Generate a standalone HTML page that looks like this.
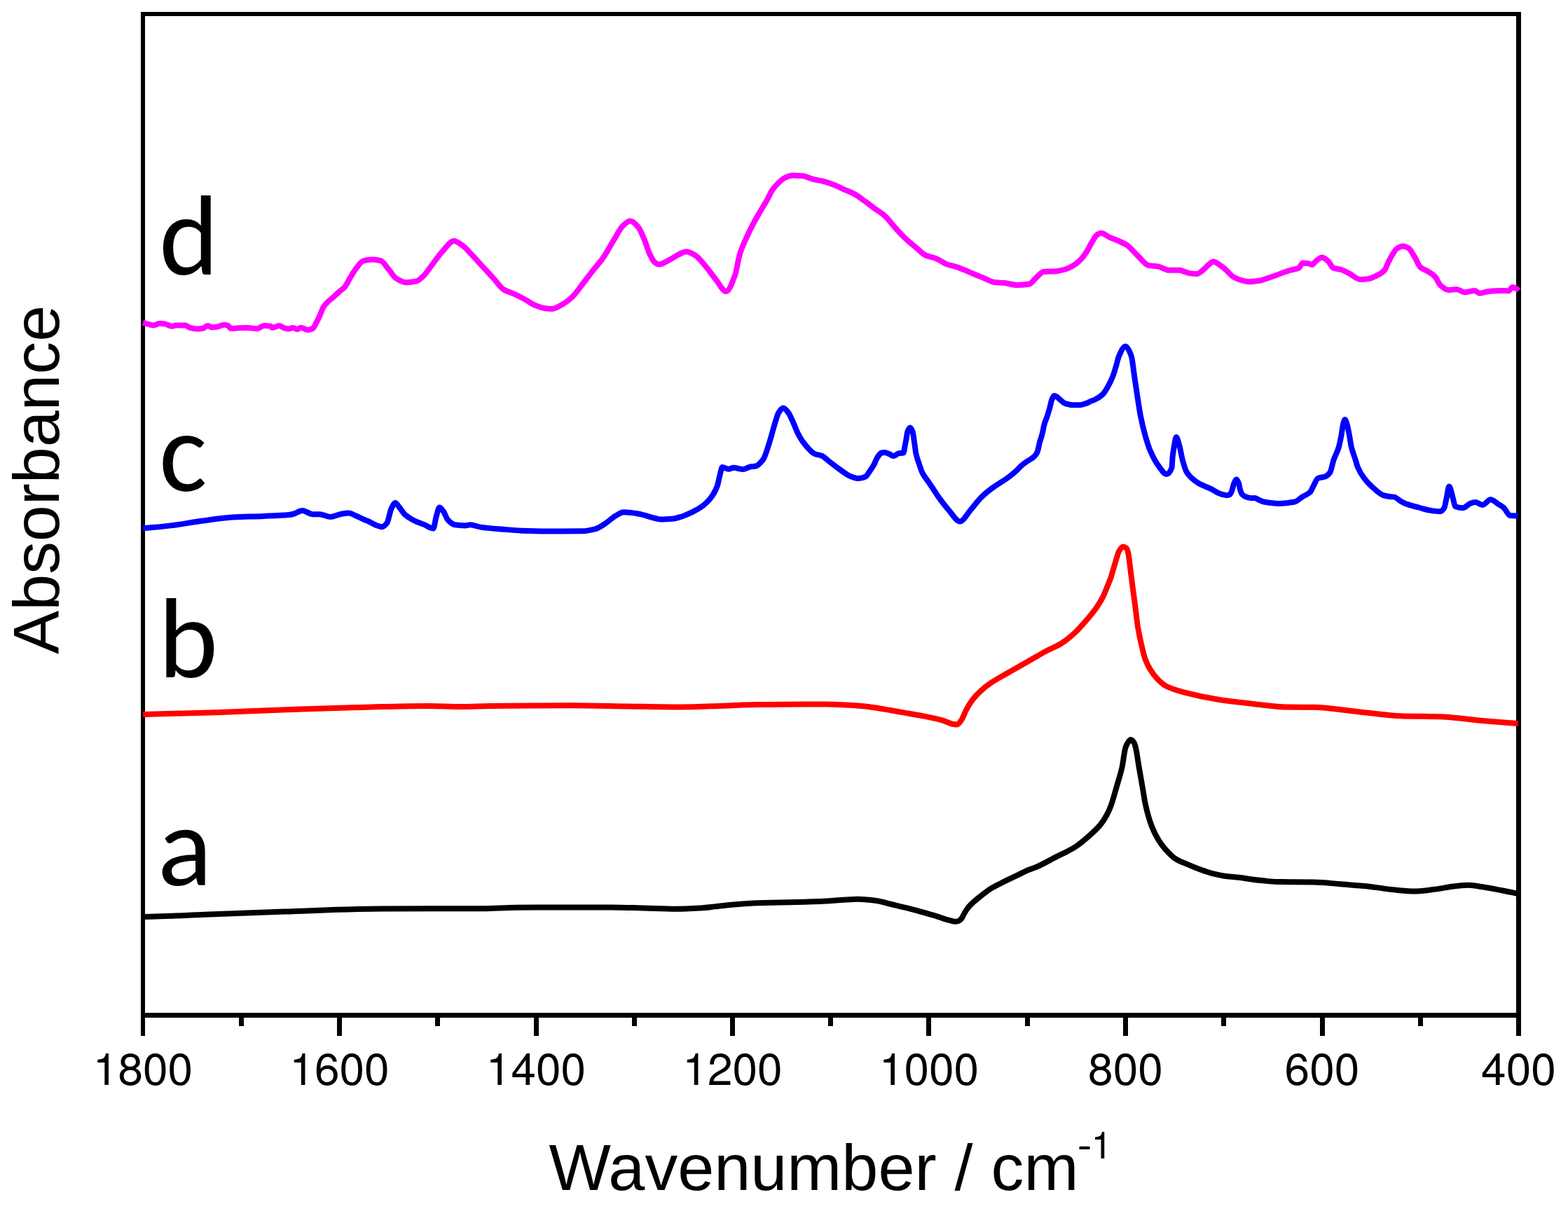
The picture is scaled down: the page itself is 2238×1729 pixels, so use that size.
<!DOCTYPE html><html><head><meta charset="utf-8"><title>FTIR spectra</title><style>html,body{margin:0;padding:0;background:#fff;}svg{display:block;}</style></head><body>
<svg width="2238" height="1729" viewBox="0 0 2238 1729">
<rect width="2238" height="1729" fill="#fff"/>
<g fill="#000" shape-rendering="crispEdges"><rect x="201" y="17" width="6" height="1436"/><rect x="201" y="17" width="1970" height="6"/><rect x="2164" y="17" width="7" height="1436"/><rect x="201" y="1446" width="1970" height="7"/><rect x="201" y="1453" width="6" height="26"/><rect x="341" y="1453" width="7" height="12"/><rect x="481" y="1453" width="7" height="26"/><rect x="621" y="1453" width="7" height="12"/><rect x="762" y="1453" width="7" height="26"/><rect x="902" y="1453" width="7" height="12"/><rect x="1042" y="1453" width="7" height="26"/><rect x="1182" y="1453" width="7" height="12"/><rect x="1322" y="1453" width="7" height="26"/><rect x="1463" y="1453" width="7" height="12"/><rect x="1603" y="1453" width="7" height="26"/><rect x="1743" y="1453" width="7" height="12"/><rect x="1884" y="1453" width="7" height="26"/><rect x="2024" y="1453" width="7" height="12"/><rect x="2164" y="1453" width="7" height="26"/></g>
<path d="M204 460.6C206.9 461.5 209.9 462.5 212.8 463.2C214.9 463.7 217.1 464.5 219.2 464.5C222.2 464.5 225.2 461.8 228.2 461.8C230.8 461.8 233.3 462.2 235.9 462.6C238.9 463.1 241.9 465.8 244.9 465.8C247 465.8 249.2 464.4 251.3 464.4C255.6 464.4 259.8 464.4 264.1 464.4C266.2 464.4 268.4 467 270.5 467.7C273.5 468.6 276.5 469.6 279.5 469.6C282.9 469.6 286.3 469.2 289.7 468.7C291.9 468.4 294 465 296.2 465C298.3 465 300.5 467.3 302.6 467.3C304.7 467.3 306.9 467 309 466.8C312.8 466.4 316.7 463.7 320.5 463.7C322.2 463.7 323.9 464.2 325.6 464.9C326.9 465.4 328.2 469 329.5 469C333.3 469 337.2 468.4 341 468.3C345.3 468.2 349.5 468.1 353.8 468.1C358.1 468.1 362.4 469.2 366.7 469.2C370.1 469.2 373.5 464.9 376.9 464.9C379.9 464.9 382.9 465.1 385.9 465.6C386.8 465.7 387.6 467.7 388.5 467.7C391.9 467.7 395.3 465.1 398.7 465.1C400.8 465.1 403 467.4 405.1 468.1C407.2 468.8 409.4 469.6 411.5 469.6C413.6 469.6 415.8 468.1 417.9 468.1C420.1 468.1 422.2 470 424.4 470C426.1 470 427.8 467.7 429.5 467.7C432.5 467.7 435.5 470.9 438.5 470.9C441.1 470.9 443.6 470.3 446.2 469.4C447.9 468.8 449.6 464.1 451.3 461C453 457.9 454.7 454.5 456.4 450.8C458.1 447.1 459.8 441.3 461.5 438.6C464.1 434.5 466.6 432 469.2 429.6C471.1 427.8 473.1 426.6 475 425C478.2 422.3 481.5 418.8 484.7 416C487.1 413.9 489.6 412.6 492 409.9C494.4 407.2 496.9 401.4 499.3 397.4C502.2 392.6 505.2 387.3 508.1 383.5C511.5 379.1 515 373.5 518.4 372.5C522.8 371.2 527.1 370.4 531.5 370.4C535.4 370.4 539.4 371.1 543.3 372.2C547.2 373.2 551.1 380.4 555 384.9C558.4 388.8 561.8 395.3 565.2 397.4C570.1 400.5 575 403.3 579.9 403.3C584.8 403.3 589.6 402.5 594.5 401.4C597.9 400.6 601.4 396.9 604.8 393.7C608.7 390 612.6 383.5 616.5 378.4C621.4 372 626.3 364.6 631.2 359.3C636.8 353.3 642.4 344 648 344C652.2 344 656.3 347.9 660.5 350.8C665.4 354.2 670.2 360.4 675.1 365.5C680 370.6 684.9 376.3 689.8 381.6C694.7 386.9 699.5 392.1 704.4 397.4C709.3 402.7 714.2 410.5 719.1 413.5C724 416.5 728.8 417.5 733.7 419.7C738.6 421.9 743.5 424.4 748.4 427C753.3 429.6 758.1 433.5 763 435.5C767.9 437.5 772.8 439.6 777.7 440.2C780.9 440.6 784.1 440.9 787.3 440.9C792.2 440.9 797.1 437.6 802 435C806.9 432.5 811.7 428.6 816.6 424.1C821.5 419.5 826.4 412.1 831.3 405.8C836.2 399.6 841 392.9 845.9 386.7C850.8 380.4 855.7 375.4 860.6 368.4C865.5 361.5 870.3 352 875.2 344.2C880.1 336.4 885 325.7 889.9 321.5C893.1 318.8 896.2 315.6 899.4 315.6C903.1 315.6 906.9 319.6 910.6 323.7C913.4 326.8 916.3 334.2 919.1 340.7C921.9 347.2 924.8 357.8 927.6 363.4C930 368.1 932.3 373.1 934.7 374.8C936.6 376.2 938.5 377.6 940.4 377.6C945.5 377.6 950.7 373.4 955.8 370.9C960.7 368.5 965.6 364.7 970.5 362.5C973.4 361.2 976.4 359.2 979.3 359.2C983.7 359.2 988.1 362.1 992.5 364.7C997.4 367.6 1002.2 374.4 1007.1 380.1C1012 385.8 1016.9 393.2 1021.8 399.2C1026.7 405.1 1031.5 416 1036.4 416C1040.7 416 1044.9 404.2 1049.2 392.6C1051.4 386.6 1053.6 370.5 1055.8 363.3C1058.7 353.8 1061.6 347.9 1064.5 341.3C1068.1 333.2 1071.6 326.1 1075.2 319.3C1079.2 311.7 1083.3 305 1087.3 298.1C1089.8 293.9 1092.2 290.1 1094.7 285.7C1097.1 281.4 1099.6 275.4 1102 271.8C1104.4 268.2 1106.9 265.4 1109.3 263C1113.2 259.1 1117.1 255 1121 253.4C1124.4 252 1127.9 250.5 1131.3 250.5C1136.2 250.5 1141 250.8 1145.9 251.2C1150.8 251.6 1155.7 254.7 1160.6 255.9C1165.5 257.1 1170.3 257.7 1175.2 258.9C1180.1 260.1 1185 261.8 1189.9 263.7C1194.8 265.5 1199.6 268.1 1204.5 270.3C1209.4 272.5 1214.3 274.3 1219.2 276.9C1224.1 279.5 1228.9 283.3 1233.8 286.7C1238.7 290.2 1243.6 294.1 1248.5 297.7C1253.4 301.3 1258.3 304 1263.2 308.4C1268.1 312.7 1272.9 319.9 1277.8 325.2C1282.7 330.6 1287.6 336 1292.5 340.6C1297.4 345.2 1302.2 349.1 1307.1 353.1C1312 357.1 1316.9 362.7 1321.8 364.8C1326.7 366.9 1331.5 367.3 1336.4 369.2C1341.3 371.1 1346.2 375.5 1351.1 377.3C1356 379.1 1360.8 379.6 1365.7 381.2C1370.6 382.8 1375.5 385 1380.4 387.1C1383.6 388.4 1386.8 390 1390 391.3C1394.9 393.4 1399.8 395.2 1404.7 397.2C1409.6 399.1 1414.4 402.4 1419.3 403C1424.2 403.6 1429.1 403.6 1434 404.1C1439.8 404.7 1445.7 407 1451.5 407C1457.4 407 1463.2 406.5 1469.1 405.5C1472 405 1475 400 1477.9 397.5C1481.8 394.1 1485.7 388.4 1489.6 388C1495.5 387.5 1501.3 387.7 1507.2 387.2C1512.1 386.8 1517 385.5 1521.9 384C1526.8 382.5 1531.6 379.4 1536.5 375.9C1538.8 374.2 1541.2 372 1543.5 369.5C1546.1 366.7 1548.6 363 1551.2 359C1553.8 355 1556.4 349.1 1559 345C1561.3 341.3 1563.7 336.4 1566 335C1567.9 333.8 1569.8 332.7 1571.7 332.7C1575.6 332.7 1579.5 336.9 1583.4 338.6C1587.3 340.3 1591.2 341.5 1595.1 343.3C1600 345.5 1604.9 347.6 1609.8 351C1614.7 354.4 1619.5 361.1 1624.4 365.7C1629.3 370.4 1634.2 377.9 1639.1 378.9C1644 379.9 1648.8 379.7 1653.7 380.6C1658.6 381.5 1663.5 385.8 1668.4 385.8C1673.3 385.8 1678.1 385.8 1683 385.8C1687.9 385.8 1692.8 389.5 1697.7 390.1C1701.4 390.6 1705.1 391 1708.8 391C1711.4 391 1713.9 387.9 1716.5 386C1720.2 383.2 1723.8 378.2 1727.5 375.8C1729 374.8 1730.4 373.4 1731.9 373.4C1735.2 373.4 1738.5 376.7 1741.8 378.9C1744.4 380.6 1746.9 382.8 1749.5 385C1753.1 388.1 1756.8 393.3 1760.4 395.4C1764.1 397.5 1767.7 399 1771.4 400C1775.1 401 1778.7 402.2 1782.4 402.2C1787.9 402.2 1793.4 401.4 1798.9 400.5C1802.6 399.9 1806.2 398.2 1809.9 397C1813.6 395.8 1817.2 394.5 1820.9 393.2C1824.6 391.9 1828.2 390.3 1831.9 389C1835.6 387.7 1839.2 386.5 1842.9 385.5C1846.5 384.5 1850.2 384.4 1853.8 382.7C1855.6 381.9 1857.5 375.6 1859.3 375.6C1862.2 375.6 1865.2 375.8 1868.1 376.2C1869.6 376.4 1871 378 1872.5 378C1874.3 378 1876.2 374.3 1878 372.9C1880.9 370.7 1883.9 367.4 1886.8 367.4C1889.7 367.4 1892.7 370.4 1895.6 372.9C1898.2 375.1 1900.7 381.7 1903.3 382.7C1907 384.1 1910.6 383.9 1914.3 385C1918 386.1 1921.6 388.3 1925.3 390.1C1930.7 392.8 1936 398.9 1941.4 398.9C1945.2 398.9 1949.1 398.6 1952.9 398.1C1956.7 397.7 1960.5 395.6 1964.3 393.8C1968.1 392 1972 390.3 1975.8 386.3C1977.7 384.3 1979.6 378.3 1981.5 374.6C1983.4 370.9 1985.3 366.8 1987.2 363.8C1989.5 360.2 1991.8 356 1994.1 354.6C1996.8 352.9 1999.4 351.4 2002.1 351.4C2004.8 351.4 2007.4 352.6 2010.1 354C2013.2 355.6 2016.2 362.3 2019.3 367.2C2022 371.5 2024.6 379.2 2027.3 381.5C2031.1 384.8 2034.9 385.4 2038.7 387.8C2041.8 389.8 2044.8 391.6 2047.9 394.7C2050.6 397.4 2053.2 404.9 2055.9 407.3C2059.7 410.7 2063.6 414.1 2067.4 414.1C2071.2 414.1 2075 413 2078.8 413C2082.6 413 2086.5 417.2 2090.3 417.2C2095.2 417.2 2100.2 414.9 2105.1 414.9C2107.4 414.9 2109.7 418.7 2112 418.7C2116.2 418.7 2120.4 416.3 2124.6 415.9C2130.3 415.4 2136.1 414.9 2141.8 414.9C2145.6 414.9 2149.4 415.3 2153.2 415.3C2155.1 415.3 2157 410.1 2158.9 410.1C2160.8 410.1 2162.8 411.3 2164.7 412.4C2165.6 412.9 2166.6 414.1 2167.5 415" fill="none" stroke="#ff00ff" stroke-width="8" stroke-linejoin="round" stroke-linecap="butt"/>
<path d="M204 754.3C217.3 753 230.7 752 244 750.4C258.7 748.7 273.3 745.7 288 743.8C302.7 741.9 317.3 739.5 332 738.6C346.7 737.7 361.3 737.6 376 736.9C388.2 736.4 400.3 736.2 412.5 735C414.9 734.8 417.4 734.1 419.8 733.5C423.7 732.5 427.6 729.1 431.5 729.1C436.4 729.1 441.3 734.2 446.2 734.2C449.6 734.2 453 734.2 456.4 734.2C461.3 734.2 466.1 737.9 471 737.9C475.9 737.9 480.8 735.1 485.7 734.2C489.6 733.5 493.5 732.6 497.4 732.6C500.8 732.6 504.3 734.8 507.7 736.2C511.8 737.8 515.9 740.3 520 742C521.6 742.7 523.1 743.1 524.7 743.8C529.6 745.8 534.4 749.3 539.3 750.8C541.3 751.4 543.2 752.3 545.2 752.3C547.6 752.3 550.1 749.6 552.5 746.4C554.5 743.8 556.4 730.6 558.4 726.6C560.3 722.6 562.3 718 564.2 718C566.1 718 568.1 722.1 570 724.4C572.5 727.4 574.9 731.9 577.4 734.2C581.8 738.2 586.2 740.8 590.6 743C595.5 745.5 600.3 746.9 605.2 748.9C609.6 750.7 614 754.5 618.4 754.5C619.9 754.5 621.3 741.9 622.8 737C624.3 732.1 625.7 724.5 627.2 724.5C629.1 724.5 631.1 727.7 633 730.3C635 732.9 637 739.8 639 742C642.4 745.7 645.8 748.8 649.2 749.3C654.1 750 658.9 750.4 663.8 750.4C666.3 750.4 668.7 749.3 671.2 749.3C676.1 749.3 680.9 751.9 685.8 752.6C695.6 754 705.3 754.7 715.1 755.5C724.9 756.3 734.6 757.3 744.4 757.7C754.2 758.1 763.9 758.4 773.7 758.4C783.5 758.4 793.2 758.4 803 758.4C812 758.4 821 758.4 830 758.3C836.4 758.3 842.9 756.9 849.3 755.3C854.2 754.1 859.1 750.5 864 747.4C868.9 744.3 873.7 739.1 878.6 736.4C882.5 734.3 886.4 731.3 890.3 731.3C893.7 731.3 897.2 731.7 900.6 732C905.5 732.5 910.3 733.4 915.2 734.4C920.1 735.4 925 737.4 929.9 738.6C934.8 739.8 939.6 741.6 944.5 741.6C949.4 741.6 954.3 741.2 959.2 740.8C964.1 740.4 968.9 738.7 973.8 737.2C978.7 735.7 983.6 733.3 988.5 730.9C993.4 728.5 998.3 725.8 1003.2 722.1C1006.6 719.6 1010 716.5 1013.4 712.3C1016.8 708 1020.3 703.1 1023.7 694C1024.9 690.8 1026.1 683.7 1027.3 679.3C1028.5 674.8 1029.8 667 1031 667C1033.9 667 1036.9 669.8 1039.8 669.8C1042.2 669.8 1044.7 667.7 1047.1 667.7C1051.5 667.7 1055.9 670 1060.3 670C1064.1 670 1067.9 666.6 1071.7 666.2C1073.7 666 1075.6 666 1077.6 665.8C1081.5 665.4 1085.4 661.1 1089.3 656C1092.1 652.3 1094.9 641.9 1097.7 633.3C1099.1 628.9 1100.6 623.5 1102 618.6C1103.4 613.8 1104.8 608.4 1106.2 604C1107.9 598.6 1109.6 591.9 1111.3 589.3C1113.5 585.9 1115.7 582.5 1117.9 582.5C1120.3 582.5 1122.8 586.2 1125.2 589.3C1127.6 592.4 1130.1 598.7 1132.5 604C1134.6 608.5 1136.6 614.6 1138.7 618.6C1141.8 624.5 1144.8 629.5 1147.9 633.3C1152.8 639.4 1157.7 645.8 1162.6 647.9C1166 649.4 1169.4 649.4 1172.8 650.8C1176.7 652.4 1180.6 656.7 1184.5 659.6C1189.4 663.3 1194.3 667.2 1199.2 670.6C1204.1 674 1208.9 678.3 1213.8 680.1C1217.7 681.5 1221.7 683.1 1225.6 683.1C1229 683.1 1232.4 682.1 1235.8 680.4C1237.2 679.7 1238.6 676.7 1240 674.7C1242.2 671.6 1244.3 668.7 1246.5 665C1248.7 661.3 1250.8 654.9 1253 652C1254.8 649.6 1256.5 646.9 1258.3 646.5C1259.8 646.2 1261.3 645.9 1262.8 645.9C1265 645.9 1267.1 647.4 1269.3 648.3C1271.5 649.2 1273.7 651.1 1275.9 651.1C1278.1 651.1 1280.2 647.9 1282.4 647.4C1284.8 646.9 1287.1 647.2 1289.5 646.5C1290.3 646.3 1291 639.3 1291.8 635.6C1292.2 633.5 1292.7 631.4 1293.1 629.1C1293.9 625.1 1294.6 618.1 1295.4 616.1C1296.6 613 1297.8 610.5 1299 610.5C1300.2 610.5 1301.3 613 1302.5 616C1303.5 618.6 1304.6 628.9 1305.6 635.6C1306.3 639.9 1306.9 645.7 1307.6 648.7C1309 654.8 1310.3 657.6 1311.7 661.7C1313.2 666.3 1314.8 671.6 1316.3 674.7C1319.2 680.6 1322.1 683.5 1325 687.8C1327.2 691.1 1329.4 694.3 1331.6 697.6C1333.9 701.1 1336.2 704.9 1338.5 708.1C1343.7 715.4 1348.8 722.2 1354 728.1C1359.4 734.2 1364.7 744.5 1370.1 744.5C1375 744.5 1379.9 734.4 1384.8 728.9C1389.9 723.1 1395.1 715.5 1400.2 710.4C1405.3 705.3 1410.5 701.2 1415.6 697.3C1423.3 691.5 1431 687.6 1438.7 681.9C1442.5 679.1 1446.2 676.2 1450 672.8C1452.8 670.3 1455.5 666.9 1458.3 664.5C1461.1 662.1 1463.8 660.2 1466.6 658.3C1469.4 656.4 1472.1 655.3 1474.9 652.9C1476.4 651.6 1478 650 1479.5 647.5C1480 646.6 1480.6 645.3 1481.1 643.7C1482.1 640.8 1483 634.9 1484 631.3C1485.3 626.6 1486.5 623.8 1487.8 618.8C1488.7 615.4 1489.5 609.6 1490.4 606.4C1491.9 601.1 1493.3 598.4 1494.8 593.9C1496 590.1 1497.3 586 1498.5 581.5C1499.3 578.4 1500.2 573.6 1501 571.5C1502.3 568.4 1503.5 565 1504.8 565C1506 565 1507.3 565.8 1508.5 566.5C1509.7 567.2 1511 568.9 1512.2 569.9C1515 572.2 1517.7 575.3 1520.5 576.1C1524.7 577.3 1528.8 578.3 1533 578.3C1535.8 578.3 1538.5 578.3 1541.3 578.3C1544.1 578.3 1546.8 577 1549.6 576.1C1552.4 575.2 1555.1 573.5 1557.9 572.4C1559.3 571.9 1560.6 571.5 1562 570.9C1566 569.1 1570 566.8 1574 563C1576.3 560.8 1578.7 556.6 1581 552.6C1583.5 548.3 1586 543.3 1588.5 536.9C1590 533.1 1591.5 527.7 1593 522.7C1594.3 518.2 1595.7 511.5 1597 508.5C1600.1 501.6 1603.2 494.5 1606.3 494.5C1609.1 494.5 1612 500.5 1614.8 508.5C1616.2 512.5 1617.7 527.3 1619.1 536.9C1620.5 546.3 1621.9 556.3 1623.3 565.4C1624.8 575.3 1626.4 586 1627.9 593.8C1630.2 605.3 1632.4 614.3 1634.7 622.3C1637.1 630.6 1639.4 638.2 1641.8 643.7C1645.4 652 1648.9 658.8 1652.5 663.6C1656.8 669.4 1661 677 1665.3 677C1667.7 677 1670 674.6 1672.4 668C1672.9 666.7 1673.3 654.9 1673.8 650.8C1674.5 644.4 1675.3 640.4 1676 636.5C1676.9 631.5 1677.9 624 1678.8 624C1680.3 624 1681.9 631.3 1683.4 636.5C1685 641.8 1686.5 652.4 1688.1 657.9C1690 664.6 1691.9 671.2 1693.8 674.2C1699 682.3 1704.2 685.9 1709.4 689.2C1716.5 693.8 1723.7 695.3 1730.8 699.2C1732.9 700.3 1735 702.1 1737.1 703.1C1739.5 704.2 1741.8 705.2 1744.2 705.8C1746.6 706.4 1748.9 707.2 1751.3 707.2C1752.7 707.2 1754.1 706.7 1755.5 706C1756.5 705.5 1757.5 702.6 1758.5 700C1759.3 697.8 1760.2 693 1761 691C1762.3 688 1763.6 684.5 1764.9 684.5C1765.9 684.5 1767 687.3 1768 690C1768.7 691.8 1769.3 696.9 1770 699C1771 702.1 1772 705 1773 706C1775.3 708.3 1777.5 709.2 1779.8 709.9C1782.2 710.6 1784.5 711.3 1786.9 711.3C1788.1 711.3 1789.3 710.9 1790.5 710.9C1792.9 710.9 1795.2 713.1 1797.6 714.1C1799.7 715 1801.9 716.1 1804 716.5C1811.3 717.9 1818.6 718.9 1825.9 718.9C1833.2 718.9 1840.6 718 1847.9 716.5C1851.6 715.8 1855.2 711.6 1858.9 709.3C1862.6 707 1866.2 706.2 1869.9 702.7C1871.7 700.9 1873.6 695.6 1875.4 692.3C1877.2 689 1879.1 683.9 1880.9 683C1884.6 681.2 1888.2 681.7 1891.9 680.2C1894.1 679.3 1896.3 677.5 1898.5 674.2C1900.1 671.8 1901.8 661.7 1903.4 656.9C1905.9 649.6 1908.3 646.7 1910.8 638.5C1912 634.5 1913.2 628.3 1914.4 622C1915.3 617.3 1916.2 608.8 1917.1 605.5C1917.9 602.5 1918.8 599 1919.6 599C1920.6 599 1921.5 602.6 1922.5 605.5C1923.5 608.4 1924.4 613.6 1925.4 618.5C1926.5 624.1 1927.6 633.1 1928.7 637.7C1930.7 646.3 1932.8 650.3 1934.8 656.9C1935.7 659.8 1936.6 663.7 1937.5 665.9C1940.6 673.5 1943.7 678.2 1946.8 682.4C1950.5 687.4 1954.1 691.2 1957.8 694.5C1963.3 699.5 1968.8 705.4 1974.3 707.1C1978 708.2 1981.6 709 1985.3 709.3C1986.9 709.4 1988.4 709.4 1990 709.6C1992.9 709.9 1995.8 713.6 1998.7 715.2C2001.6 716.8 2004.5 718.5 2007.4 719.6C2013.2 721.8 2019 723 2024.8 724.5C2030.6 726 2036.4 728.1 2042.2 728.9C2046.5 729.5 2050.9 730.2 2055.2 730.2C2057.2 730.2 2059.3 728.2 2061.3 725.2C2062.3 723.7 2063.4 716.7 2064.4 712.2C2065.7 706.5 2067 694.5 2068.3 694.5C2070.2 694.5 2072.1 705.8 2074 712.2C2075 715.6 2076 722.7 2077 723.1C2080.8 724.7 2084.5 725.2 2088.3 725.2C2091.8 725.2 2095.2 719.9 2098.7 718.7C2101 717.9 2103.4 717 2105.7 717C2109.2 717 2112.6 720.9 2116.1 720.9C2119.9 720.9 2123.7 713.2 2127.5 713.2C2131 713.2 2134.4 717.1 2137.9 719.3C2140.8 721.1 2143.7 722.6 2146.6 725.2C2149.5 727.8 2152.4 735.9 2155.3 736.1C2159.2 736.4 2163.1 736.4 2167 736.5" fill="none" stroke="#0000ff" stroke-width="8" stroke-linejoin="round" stroke-linecap="butt"/>
<path d="M204 1020C240.8 1019 277.7 1018.1 314.5 1016.9C352.7 1015.7 390.8 1013.8 429 1012.5C467 1011.2 505 1009.9 543 1009.1C566 1008.6 589 1008 612 1008C627.3 1008 642.7 1009.1 658 1009.1C672 1009.1 686 1008.1 700 1007.9C738.7 1007.5 777.3 1007.2 816 1007.2C842.7 1007.2 869.3 1008 896 1008.4C921.2 1008.8 946.4 1009.5 971.6 1009.5C992.1 1009.5 1012.5 1008.4 1033 1007.7C1048.3 1007.2 1063.7 1006.4 1079 1006.1C1102 1005.7 1125 1005.4 1148 1005.4C1158.7 1005.4 1169.3 1005.4 1180 1005.5C1189.2 1005.6 1198.3 1006.1 1207.5 1006.5C1216.7 1006.9 1225.8 1007.6 1235 1008.5C1244.1 1009.4 1253.3 1011.1 1262.4 1012.6C1271.6 1014.1 1280.7 1015.8 1289.9 1017.4C1299.1 1019 1308.2 1020.5 1317.4 1022.3C1326.5 1024.1 1335.7 1025.9 1344.8 1028.4C1350.3 1029.9 1355.8 1033.1 1361.3 1034C1362.9 1034.3 1364.4 1034.6 1366 1034.6C1368.1 1034.6 1370.2 1030.9 1372.3 1028C1374.6 1024.8 1376.9 1017.5 1379.2 1013.3C1382.4 1007.5 1385.6 1002.3 1388.8 998.2C1392.5 993.5 1396.1 989.9 1399.8 986.5C1404.4 982.3 1408.9 978.7 1413.5 975.5C1420.4 970.8 1427.2 967.2 1434.1 963.2C1441 959.2 1447.8 955.4 1454.7 951.5C1463.1 946.7 1471.6 941.8 1480 937C1484.6 934.4 1489.1 931.7 1493.7 929.3C1500.6 925.7 1507.4 923.2 1514.3 919C1521.2 914.8 1528.1 909 1535 902.6C1540.5 897.6 1545.9 891.1 1551.4 884.7C1556.2 879 1561.1 873.3 1565.9 866.2C1568.6 862.2 1571.4 857.8 1574.1 852.4C1576 848.6 1578 843.4 1579.9 838.7C1581.7 834.2 1583.6 830.2 1585.4 824.9C1586.8 821 1588.1 815.8 1589.5 811.2C1590.9 806.6 1592.2 801.7 1593.6 797.5C1594.9 793.6 1596.1 788.6 1597.4 786.5C1599.2 783.5 1601.1 780.5 1602.9 780.5C1604.6 780.5 1606.3 781.4 1608 783C1608.8 783.8 1609.7 787 1610.5 790.6C1611.4 794.5 1612.3 804.2 1613.2 811.2C1614.4 820.2 1615.5 829.8 1616.7 838.7C1617.9 848.1 1619.2 856.7 1620.4 866.2C1621.5 875 1622.7 886.5 1623.8 893.6C1625.6 905.1 1627.5 913.2 1629.3 921.1C1631.1 929 1633 936.8 1634.8 941.7C1637 947.6 1639.2 951.8 1641.4 955.4C1645.1 961.4 1648.7 966.1 1652.4 969.8C1656.5 973.9 1660.6 977.6 1664.7 979.7C1673 983.9 1681.2 986.1 1689.5 988.3C1706 992.7 1722.4 996.1 1738.9 998.7C1755.4 1001.3 1771.9 1003.1 1788.4 1004.9C1804.9 1006.7 1821.3 1009.4 1837.8 1009.6C1850.2 1009.7 1862.5 1009.7 1874.9 1009.8C1895.5 1010 1916.1 1013.9 1936.7 1016C1957.3 1018.1 1978 1021.5 1998.6 1022.2C2019.2 1022.9 2039.8 1022.7 2060.4 1023.4C2076.9 1024 2093.3 1026.9 2109.8 1028.4C2128.9 1030.1 2147.9 1031.5 2167 1033" fill="none" stroke="#ff0000" stroke-width="8" stroke-linejoin="round" stroke-linecap="butt"/>
<path d="M204 1309C210 1308.9 216 1308.8 222 1308.6C245.3 1308 268.7 1306.6 292 1305.7C330 1304.2 368 1302.7 406 1301.5C451.7 1300 497.3 1297.7 543 1297.5C592 1297.3 641 1297.4 690 1297.2C705.3 1297.1 720.7 1295.8 736 1295.7C781.7 1295.5 827.3 1295.4 873 1295.4C888.3 1295.4 903.7 1296.1 919 1296.5C934.3 1296.9 949.7 1297.7 965 1297.7C976.3 1297.7 987.7 1297.1 999 1296.5C1010.3 1295.9 1021.7 1294 1033 1292.9C1044.7 1291.8 1056.3 1290.4 1068 1289.9C1079.3 1289.4 1090.7 1289.1 1102 1288.8C1117.3 1288.4 1132.7 1288.2 1148 1287.8C1158.7 1287.5 1169.3 1287 1180 1286.5C1187 1286.1 1194 1285.5 1201 1285.1C1209 1284.6 1217 1283.7 1225 1283.7C1233 1283.7 1241 1284.8 1249 1285.8C1258 1286.9 1267 1289.9 1276 1292C1285.3 1294.2 1294.7 1296.4 1304 1298.8C1313 1301.1 1322 1303.8 1331 1306.4C1340.3 1309.1 1349.7 1313.2 1359 1315C1360.7 1315.3 1362.4 1315.8 1364.1 1315.8C1365.4 1315.8 1366.7 1315.4 1368 1315C1369.4 1314.5 1370.9 1313.1 1372.3 1311.5C1373.7 1310 1375 1306.3 1376.4 1304C1378.2 1300.9 1380.1 1297.9 1381.9 1295.6C1384.2 1292.8 1386.5 1290.6 1388.8 1288.5C1392.5 1285.1 1396.1 1282.3 1399.8 1279.4C1404.4 1275.8 1408.9 1272 1413.5 1269.1C1418.1 1266.2 1422.7 1264.1 1427.3 1261.7C1431.9 1259.3 1436.4 1257.1 1441 1254.9C1445.6 1252.7 1450.1 1250.5 1454.7 1248.3C1459.3 1246.1 1463.9 1243.7 1468.5 1241.8C1472.3 1240.2 1476.2 1239.1 1480 1237.5C1489.2 1233.6 1498.3 1228.1 1507.5 1223.4C1516.7 1218.7 1525.8 1214.9 1535 1209C1541.8 1204.6 1548.7 1198.6 1555.5 1192.5C1560.6 1188 1565.6 1183.6 1570.7 1177.4C1573.8 1173.6 1576.9 1168.8 1580 1163C1581.9 1159.4 1583.9 1155.1 1585.8 1149.9C1588.5 1142.6 1591.3 1131.9 1594 1122.4C1596.5 1113.6 1599.1 1106.4 1601.6 1095C1603.2 1087.8 1604.8 1072.2 1606.4 1067.5C1607.8 1063.5 1609.1 1060.9 1610.5 1059.2C1611.7 1057.7 1612.8 1056 1614 1056C1615.6 1056 1617.1 1058.1 1618.7 1060.6C1619.5 1061.8 1620.2 1064.5 1621 1067.5C1622.5 1073.4 1624.1 1086 1625.6 1095C1627.2 1104.3 1628.8 1113.3 1630.4 1122.4C1632 1131.5 1633.6 1142.9 1635.2 1149.9C1638.1 1162.8 1641.1 1172.5 1644 1180C1647.2 1188.3 1650.5 1194.5 1653.7 1199.7C1656.8 1204.6 1659.8 1208.5 1662.9 1212C1667.5 1217.2 1672 1222.3 1676.6 1225.3C1682.7 1229.3 1688.9 1231.5 1695 1234.2C1701.1 1236.9 1707.2 1239.3 1713.3 1241.5C1719.4 1243.7 1725.5 1245.8 1731.6 1247.3C1737.7 1248.8 1743.8 1250.2 1749.9 1251C1756 1251.8 1762.1 1252.1 1768.2 1252.8C1774.3 1253.5 1780.4 1254.7 1786.5 1255.5C1792.6 1256.3 1798.7 1257 1804.8 1257.6C1810.9 1258.2 1816.9 1258.9 1823 1259C1828.7 1259.1 1834.3 1259.1 1840 1259.2C1851.8 1259.3 1863.6 1259.4 1875.4 1259.6C1888.2 1259.8 1901 1261.3 1913.8 1262.3C1926.6 1263.3 1939.5 1264.1 1952.3 1265.4C1965.1 1266.7 1978 1269.5 1990.8 1270.6C2000.4 1271.4 2010 1272.5 2019.6 1272.5C2029.2 1272.5 2038.9 1270.8 2048.5 1269.6C2058.1 1268.4 2067.7 1266.1 2077.3 1265.2C2083.7 1264.6 2090.1 1263.8 2096.5 1263.8C2102.9 1263.8 2109.4 1265.3 2115.8 1266.3C2125.4 1267.7 2135 1269.7 2144.6 1271.5C2152.1 1272.9 2159.5 1274.5 2167 1276" fill="none" stroke="#000000" stroke-width="8" stroke-linejoin="round" stroke-linecap="butt"/>
<g font-family="'TeX Gyre Heros', 'Liberation Sans', Arial, sans-serif" font-size="64" text-anchor="middle" fill="#000"><text x="204" y="1548.5">1800</text><text x="484.5" y="1548.5">1600</text><text x="765" y="1548.5">1400</text><text x="1045.5" y="1548.5">1200</text><text x="1326" y="1548.5">1000</text><text x="1606.5" y="1548.5">800</text><text x="1887" y="1548.5">600</text><text x="2167.5" y="1548.5">400</text></g>
<text x="783.5" y="1699" font-family="'Liberation Sans', Arial, sans-serif" font-size="93.6" fill="#000">Wavenumber / cm</text>
<text transform="translate(1537.7 1653.2) scale(1.14 1)" font-family="'Liberation Sans', Arial, sans-serif" font-size="54" fill="#000">-</text>
<text x="1557.5" y="1653.8" font-family="'TeX Gyre Heros', 'Liberation Sans', Arial, sans-serif" font-size="54" fill="#000">1</text>
<text transform="translate(84.2 934) rotate(-90)" font-family="'Liberation Sans', Arial, sans-serif" font-size="93.33" fill="#000">Absorbance</text>
<g font-family="Carlito, Calibri, 'Noto Sans CJK JP', sans-serif" font-size="162" style="font-size-adjust:0.4775" fill="#000"><text x="227" y="392">d</text><text x="227" y="701">c</text><text x="226" y="967">b</text><text x="225" y="1264">a</text></g>
</svg></body></html>
